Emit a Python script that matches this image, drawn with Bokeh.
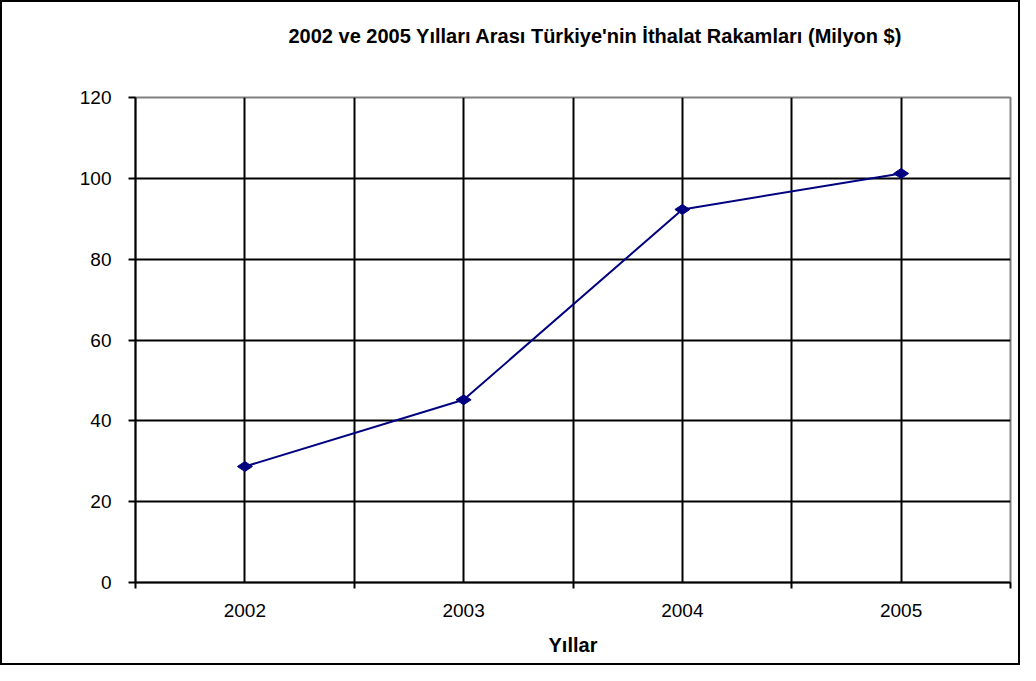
import math
from bokeh.plotting import figure
from bokeh.models import FixedTicker, Range1d, ColumnDataSource, Title
from bokeh.layouts import column
from bokeh.embed import file_html
from bokeh.resources import INLINE

title_text = "2002 ve 2005 Yılları Arası Türkiye'nin İthalat Rakamları (Milyon $)"
years = ["2002", "2003", "2004", "2005"]
imports = [28.7, 45.2, 92.3, 101.2]
y_ticks = [0, 20, 40, 60, 80, 100, 120]

xs = list(range(1, len(years) + 1))
bounds = [i + 0.5 for i in range(0, len(years) + 1)]

FONT = "Liberation Sans"

p = figure(width=1016, height=661, output_backend="svg", toolbar_location=None,
           x_range=Range1d(0.5, len(years) + 0.5), y_range=Range1d(0, 120),
           min_border_left=133, min_border_right=8, min_border_top=95, min_border_bottom=81)

# spacer between plot frame and title (nearest to frame), then the title
p.add_layout(Title(text=" ", text_font_size="1px", standoff=48), "above")
p.add_layout(Title(text=title_text, align="left", offset=153, standoff=0,
                   text_font=FONT, text_font_size="20px", text_font_style="bold",
                   text_color="black"), "above")

src = ColumnDataSource(dict(x=xs, y=imports))
p.line("x", "y", source=src, line_color="#000080", line_width=2)
p.scatter("x", "y", source=src, marker="diamond", size=15, angle=math.pi / 2,
          fill_color="#000080", line_color="#000080")

# x axis
p.xaxis.ticker = FixedTicker(ticks=xs, minor_ticks=bounds)
p.xaxis.major_label_overrides = {x: y for x, y in zip(xs, years)}
p.xaxis.major_tick_out = 0
p.xaxis.major_tick_in = 0
p.xaxis.minor_tick_out = 6
p.xaxis.minor_tick_in = 0
p.xaxis.minor_tick_line_color = "black"
p.xaxis.minor_tick_line_width = 2
p.xaxis.axis_line_width = 2
p.xaxis.major_label_standoff = 15
p.xaxis.axis_label = "Yıllar"
p.xaxis.axis_label_text_font = FONT
p.xaxis.axis_label_text_font_style = "bold"
p.xaxis.axis_label_text_font_size = "20px"
p.xaxis.axis_label_text_color = "black"
p.xaxis.axis_label_standoff = 14

# y axis
p.yaxis.ticker = FixedTicker(ticks=y_ticks, minor_ticks=[])
p.yaxis.major_tick_out = 7
p.yaxis.major_tick_in = 0
p.yaxis.major_tick_line_width = 2
p.yaxis.axis_line_width = 2
p.yaxis.major_label_standoff = 17

for ax in (p.xaxis, p.yaxis):
    ax.major_label_text_font = FONT
    ax.major_label_text_font_size = "19px"
    ax.major_label_text_color = "black"
    ax.axis_line_color = "black"
    ax.major_tick_line_color = "black"

p.xgrid.ticker = FixedTicker(ticks=xs, minor_ticks=bounds[1:-1])
p.xgrid.grid_line_color = "black"
p.xgrid.grid_line_width = 2
p.xgrid.grid_line_alpha = 1
p.xgrid.minor_grid_line_color = "black"
p.xgrid.minor_grid_line_width = 2

p.ygrid.ticker = FixedTicker(ticks=y_ticks[1:-1], minor_ticks=[])
p.ygrid.grid_line_color = "black"
p.ygrid.grid_line_width = 2
p.ygrid.grid_line_alpha = 1

p.outline_line_color = "#808080"
p.outline_line_width = 2
p.background_fill_color = "white"
p.border_fill_color = "white"

layout = column(p, styles={"border": "2px solid black"})

open("out.html", "w").write(file_html(layout, INLINE))
